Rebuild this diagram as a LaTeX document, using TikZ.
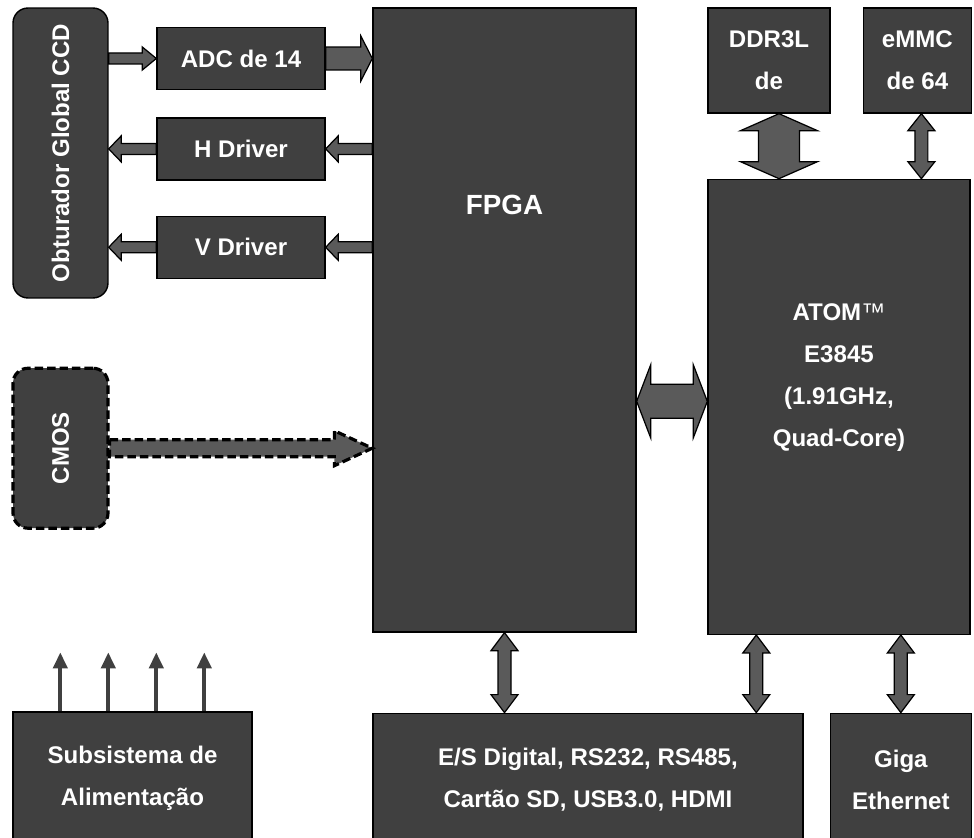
\documentclass[tikz,border=0pt]{standalone}
\usepackage{fontspec}
\setmainfont{Liberation Sans}
\usepackage{graphicx}
\usetikzlibrary{arrows.meta,positioning,calc}
\newcommand{\diagramfont}{\fontsize{13.7}{24}\selectfont\bfseries}
\newcommand{\fpgafont}{\fontsize{15.8}{20}\selectfont\bfseries}
\definecolor{boxgray}{HTML}{404040}
\definecolor{arrowgray}{HTML}{5A5A5A}

\newcommand{\blockarrow}[6][]{%
  \coordinate (ba-head) at ($#3!#6!#2$);
  \draw[bigarrow,#1] ($#2!#4!90:#3$) -- ($(ba-head)!#4!90:#3$) -- ($(ba-head)!#5!90:#3$) -- #3
    -- ($(ba-head)!#5!-90:#3$) -- ($(ba-head)!#4!-90:#3$) -- ($#2!#4!-90:#3$) -- cycle;
}
\newcommand{\twoarrow}[5]{%
  \coordinate (da-a) at ($#1!#5!#2$);
  \coordinate (da-b) at ($#2!#5!#1$);
  \draw[bigarrow] #1 -- ($(da-a)!#4!90:#2$) -- ($(da-a)!#3!90:#2$) -- ($(da-b)!#3!90:#2$)
    -- ($(da-b)!#4!90:#2$) -- #2 -- ($(da-b)!#4!-90:#2$) -- ($(da-b)!#3!-90:#2$)
    -- ($(da-a)!#3!-90:#2$) -- ($(da-a)!#4!-90:#2$) -- cycle;
}

\begin{document}
\begin{tikzpicture}[
  x=0.02cm, y=0.02cm,
  every node/.style={font=\diagramfont},
  box/.style={draw=black,fill=boxgray,line width=0.8pt,text=white,inner sep=0pt,align=center},
  rbox/.style={box,rounded corners=0.3cm},
  drvbox/.style={box,minimum width=3.36cm,minimum height=1.24cm},
  labeltext/.style={text=white,align=center,inner sep=0pt},
  bigarrow/.style={draw=black,fill=arrowgray,line width=0.7pt,line join=miter},
  dashline/.style={dash pattern=on 0.17cm off 0.08cm,line width=1.8pt},
  power/.style={-{Triangle[length=0.32cm,width=0.28cm]},line width=0.08cm,draw=boxgray}
]
\useasboundingbox (0,0) rectangle (974,-838);

\node[rbox,minimum width=1.9cm,minimum height=5.8cm] (ccd) at (60.5,-153) {\rotatebox{90}{Obturador Global CCD}};
\node[rbox,dashline,minimum width=1.9cm,minimum height=3.2cm,below=1.36cm of ccd] (cmos) {\rotatebox{90}{CMOS}};
\node[drvbox] (adc) at (241,-58.5) {ADC de 14};
\node[drvbox,below=0.54cm of adc] (hdrv) {H Driver};
\node[drvbox,below=0.7cm of hdrv] (vdrv) {V Driver};
\node[box,minimum width=5.26cm,minimum height=12.48cm] (fpga) at (504.5,-320) {};
\node[labeltext,font=\fpgafont] (fpgalabel) at ([yshift=-3.96cm]fpga.north) {FPGA};
\node[box,minimum width=2.44cm,minimum height=2.1cm] (ddr) at (769,-60.5) {DDR3L\\de};
\node[box,minimum width=2.16cm,minimum height=2.1cm,right=0.64cm of ddr] (emmc) {eMMC\\de 64};
\node[box,minimum width=5.24cm,minimum height=9.1cm,below=1.3cm of ddr.south west,anchor=north west] (atom) {};
\node[labeltext] (atomlabel) at ([yshift=0.59cm]atom.center) {ATOM\textmd{™}\\E3845\\(1.91GHz,\\Quad-Core)};
\node[box,minimum width=4.78cm,minimum height=2.66cm] (power) at (132.5,-778.5) {Subsistema de\\Alimentação};
\node[box,minimum width=8.6cm,minimum height=2.66cm,below=1.6cm of fpga.south west,anchor=north west] (io) {E/S Digital, RS232, RS485,\\Cartão SD, USB3.0, HDMI};
\node[box,minimum width=2.82cm,minimum height=2.66cm,right=0.52cm of io] (giga) {Giga\\Ethernet};

\blockarrow{(ccd.east |- adc)}{(adc.west)}{0.11cm}{0.23cm}{0.28cm}
\blockarrow{(adc.east)}{(fpga.west |- adc)}{0.23cm}{0.45cm}{0.23cm}
\blockarrow{(fpga.west |- hdrv)}{(hdrv.east)}{0.11cm}{0.26cm}{0.25cm}
\blockarrow{(hdrv.west)}{(ccd.east |- hdrv)}{0.11cm}{0.26cm}{0.25cm}
\blockarrow{(fpga.west |- vdrv)}{(vdrv.east)}{0.11cm}{0.26cm}{0.25cm}
\blockarrow{(vdrv.west)}{(ccd.east |- vdrv)}{0.11cm}{0.26cm}{0.25cm}
\blockarrow[dashline]{(cmos.east)}{(fpga.west |- cmos.east)}{0.17cm}{0.35cm}{0.76cm}

\coordinate (fpga-atom) at ([yshift=0.11cm]atom.west);
\twoarrow{(fpga.east |- fpga-atom)}{(fpga-atom)}{0.34cm}{0.73cm}{0.28cm}
\coordinate (ddr-bus) at ([xshift=0.2cm]ddr.south);
\twoarrow{(ddr-bus)}{(ddr-bus |- atom.north)}{0.41cm}{0.77cm}{0.34cm}
\coordinate (emmc-bus) at ([xshift=0.08cm]emmc.south);
\twoarrow{(emmc-bus)}{(emmc-bus |- atom.north)}{0.13cm}{0.27cm}{0.34cm}
\twoarrow{(fpga.south)}{(fpga.south |- io.north)}{0.13cm}{0.27cm}{0.36cm}
\coordinate (atom-io) at ([xshift=0.98cm]atom.south west);
\twoarrow{(atom-io)}{(atom-io |- io.north)}{0.13cm}{0.27cm}{0.36cm}
\twoarrow{(giga.north |- atom.south)}{(giga.north)}{0.13cm}{0.27cm}{0.36cm}

\foreach \k in {1,...,4} {
  \coordinate (pwtip\k) at ([xshift=\k*0.96cm,yshift=1.18cm]power.north west);
  \draw[power] (pwtip\k |- power.north) -- (pwtip\k);
}
\end{tikzpicture}
\end{document}
